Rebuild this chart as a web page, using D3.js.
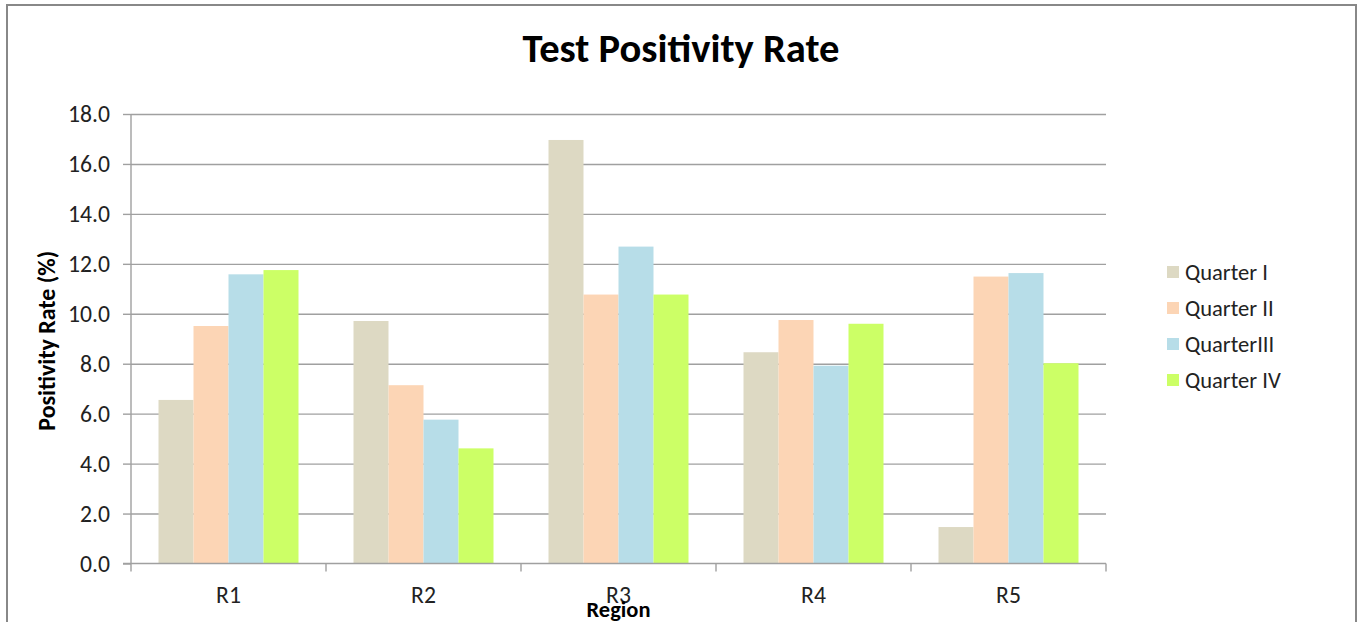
<!DOCTYPE html>
<html>
<head>
<meta charset="utf-8">
<script src="https://cdn.jsdelivr.net/npm/d3@7"></script>
<style>
  html, body { margin: 0; padding: 0; background: #fff; }
  svg { display: block; }
</style>
</head>
<body>
<svg id="chart" width="1358" height="622"></svg>
<script>
// ---- Data ----
const regions = ["R1", "R2", "R3", "R4", "R5"];
const quarters = ["Quarter I", "Quarter II", "QuarterIII", "Quarter IV"];
const quarter1 = [6.55, 9.71, 16.96, 8.46, 1.46];
const quarter2 = [9.51, 7.14, 10.77, 9.75, 11.49];
const quarter3 = [11.58, 5.76, 12.69, 7.92, 11.63];
const quarter4 = [11.75, 4.61, 10.77, 9.60, 8.02];
const yTicks = [0, 2, 4, 6, 8, 10, 12, 14, 16, 18];
const colors = ["#DDD9C3", "#FCD5B5", "#B7DDE8", "#CCFF66"];
const titleText = "Test Positivity Rate";
const yTitle = "Positivity Rate (%)";
const xTitle = "Region";

const series = [quarter1, quarter2, quarter3, quarter4];

// ---- Layout ----
const FONT = "Carlito, Calibri, Lato, 'Open Sans', sans-serif";
const svg = d3.select("#chart");
const plot = { left: 131, right: 1106, top: 114, bottom: 563.5 };

function fit(sel, target) {
  const w = sel.node().getComputedTextLength();
  const fs = parseFloat(sel.attr("font-size"));
  const nf = fs * target / w;
  sel.attr("font-size", nf);
  return nf;
}

// frame
svg.append("rect")
  .attr("x", 7).attr("y", 5).attr("width", 1349).attr("height", 640)
  .attr("fill", "#fff").attr("stroke", "#888").attr("stroke-width", 2);

const x = d3.scaleBand().domain(regions).range([plot.left, plot.right]).padding(0);
const xq = d3.scaleBand().domain(quarters)
  .range([27.5, x.bandwidth() - 27.5]).padding(0);
const y = d3.scaleLinear().domain([0, 18]).range([plot.bottom, plot.top]);

// gridlines
const grid = svg.append("g").attr("transform", `translate(${plot.left},0)`)
  .call(d3.axisLeft(y).tickValues(yTicks.filter(d => d > 0)).tickSize(-(plot.right - plot.left)).tickFormat(""));
grid.select(".domain").remove();
grid.selectAll("line").attr("stroke", "#a0a0a0").attr("stroke-width", 1.4);

// bars
const gBars = svg.append("g");
regions.forEach((r, i) => {
  const g = gBars.append("g").attr("transform", `translate(${x(r)},0)`);
  g.selectAll("rect")
    .data(quarters.map((q, k) => ({ q, v: series[k][i], c: colors[k] })))
    .join("rect")
    .attr("x", d => xq(d.q))
    .attr("width", xq.bandwidth())
    .attr("y", d => y(d.v))
    .attr("height", d => y(0) - y(d.v))
    .attr("fill", d => d.c);
});

// y axis
const yAxis = svg.append("g").attr("transform", `translate(${plot.left},0)`)
  .call(d3.axisLeft(y).tickValues(yTicks).tickFormat(d3.format(".1f")).tickSize(8).tickPadding(13));
yAxis.select(".domain").attr("stroke", "#a0a0a0").attr("stroke-width", 1.4)
  .attr("d", `M0,${plot.top}V${plot.bottom}`);
yAxis.selectAll(".tick line").attr("stroke", "#a0a0a0").attr("stroke-width", 1.4);
const yLabels = yAxis.selectAll(".tick text")
  .attr("font-family", FONT).attr("font-size", 20).attr("fill", "#222");
let tickFs = 20;
{
  const ref = yAxis.selectAll(".tick text").filter(d => d === 18);
  tickFs = fit(ref, 42);
  yLabels.attr("font-size", tickFs);
}

// x axis
const xAxis = svg.append("g").attr("transform", `translate(0,${plot.bottom})`)
  .call(d3.axisBottom(x).tickSize(0).tickPadding(23));
xAxis.select(".domain").attr("stroke", "#a0a0a0").attr("stroke-width", 1.4)
  .attr("d", `M${plot.left - 8},0H${plot.right}`);
xAxis.selectAll(".tick text")
  .attr("font-family", FONT).attr("font-size", tickFs).attr("fill", "#222");
// category boundary ticks
const bounds = regions.map(r => x(r)).concat([x(regions[regions.length - 1]) + x.bandwidth()]);
xAxis.selectAll("line.bound").data(bounds).join("line")
  .attr("class", "bound")
  .attr("x1", d => d).attr("x2", d => d).attr("y1", 0).attr("y2", 8)
  .attr("stroke", "#a0a0a0").attr("stroke-width", 1.4);

// title
const title = svg.append("text")
  .attr("x", 681).attr("y", 62).attr("text-anchor", "middle")
  .attr("font-family", FONT).attr("font-weight", "bold").attr("font-size", 36)
  .attr("fill", "#000").text(titleText);
fit(title, 317);

// y title
const yt = svg.append("text")
  .attr("transform", `translate(55,${(plot.top + plot.bottom) / 2 + 2}) rotate(-90)`)
  .attr("text-anchor", "middle")
  .attr("font-family", FONT).attr("font-weight", "bold").attr("font-size", 20)
  .attr("fill", "#000").text(yTitle);
fit(yt, 180);

// x title
const xt = svg.append("text")
  .attr("x", (plot.left + plot.right) / 2).attr("y", 617).attr("text-anchor", "middle")
  .attr("font-family", FONT).attr("font-weight", "bold").attr("font-size", 20)
  .attr("fill", "#000").text(xTitle);
fit(xt, 64);

// legend
const legend = svg.append("g").attr("transform", "translate(1167,272)");
const items = legend.selectAll("g").data(quarters).join("g")
  .attr("transform", (d, i) => `translate(0,${i * 36})`);
items.append("rect").attr("x", 0).attr("y", -6).attr("width", 12).attr("height", 12)
  .attr("fill", (d, i) => colors[i]);
const legTexts = items.append("text").attr("x", 18).attr("y", 0).attr("dy", "0.35em")
  .attr("font-family", FONT).attr("font-size", 20).attr("fill", "#222")
  .text(d => d);
{
  const ref = legTexts.filter(d => d === "Quarter I");
  const fs = fit(ref, 83);
  legTexts.attr("font-size", fs);
}
</script>
</body>
</html>
